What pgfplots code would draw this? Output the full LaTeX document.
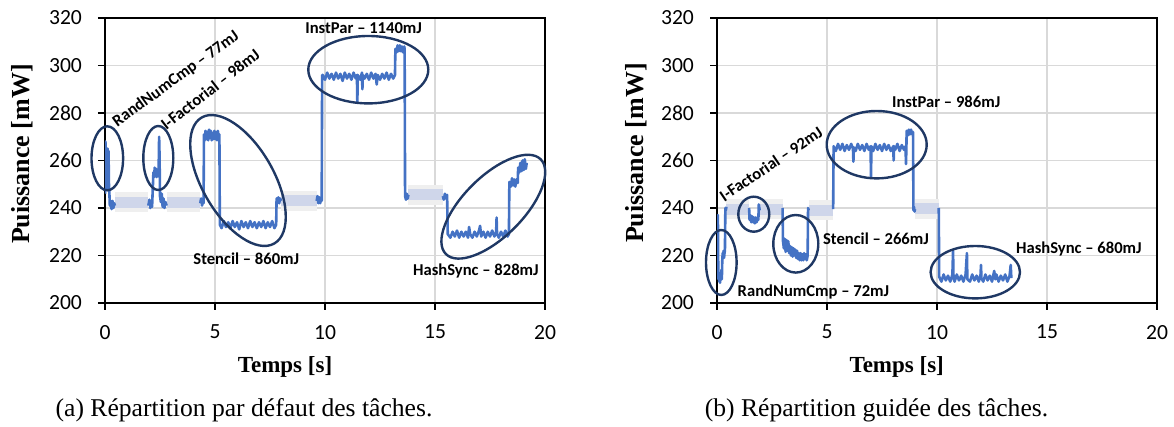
\documentclass[border=0pt]{standalone}
\usepackage{fontspec}
\setmainfont{Liberation Serif}
\newfontfamily\calibri{Carlito}
\usepackage{pgfplots}
\pgfplotsset{compat=1.18}
\usetikzlibrary{shapes.geometric}
\definecolor{bl}{HTML}{4472C4}
\definecolor{lav}{HTML}{CFD6EA}
\definecolor{lgray}{HTML}{EFEFEF}
\definecolor{navy}{HTML}{1F3864}
\definecolor{gridc}{HTML}{D9D9D9}
\pgfplotsset{
 myax/.style={scale only axis, width=220pt, height=142.5pt, anchor=south west,
  xmin=0, xmax=20, ymin=200, ymax=320,
  xtick={0,5,10,15,20}, ytick={200,220,240,260,280,300,320},
  grid=major, major grid style={gridc, line width=0.6pt},
  axis line style={line width=1pt}, tick style={black, line width=0.8pt},
  tick align=outside, major tick length=3.5pt,
  xtick pos=bottom, ytick pos=left,
  ticklabel style={font=\calibri\fontsize{10.8}{12}\selectfont},
  xticklabel style={yshift=-4pt},
  yticklabel style={xshift=-4.5pt},
  /pgf/number format/assume math mode=true},
 band1/.style={lgray, line width=10pt},
 band2/.style={lav, line width=5.5pt},
 sig/.style={bl, line width=1.3pt, line join=round}}
\tikzset{
 ann/.style={font=\calibri\bfseries\fontsize{8.3}{10}\selectfont, inner sep=0pt},
 ell/.style={draw=navy, line width=1.2pt, ellipse, inner sep=0pt},
 lab/.style={font=\bfseries\fontsize{11.5}{13}\selectfont, inner sep=0pt},
 vlab/.style={font=\bfseries\fontsize{13}{15}\selectfont, inner sep=0pt},
 capt/.style={font=\fontsize{12.8}{14}\selectfont, inner sep=0pt}}
\begin{document}
\begin{tikzpicture}
\useasboundingbox (0,0) rectangle (587pt,213.5pt);
% ---------------- (a) ----------------
\begin{axis}[myax, at={(52.5pt,62pt)}]
\addplot[band1] coordinates {(0.45,242.5)(1.97,242.5)};
\addplot[band1] coordinates {(2.8,242.5)(4.33,242.5)};
\addplot[band1] coordinates {(8.0,243)(9.62,243)};
\addplot[band1] coordinates {(13.79,245.5)(15.36,245.5)};
\addplot[band2] coordinates {(0.45,242.5)(1.97,242.5)};
\addplot[band2] coordinates {(2.8,242.5)(4.33,242.5)};
\addplot[band2] coordinates {(8.0,243)(9.62,243)};
\addplot[band2] coordinates {(13.79,245.5)(15.36,245.5)};
\addplot[sig] coordinates {(0,246)(0.02,268)(0.04,250)(0.06,258)(0.08,248)(0.1,256)(0.12,265)(0.14,258)(0.16,264)(0.18,250)(0.2,246)(0.22,241)(0.26,243)(0.3,239.5)(0.34,243)(0.38,240)(0.42,242)(0.45,241)};
\addplot[sig] coordinates {(1.97,241)(2.02,243.5)(2.06,240)(2.1,242.5)(2.14,240.5)(2.18,250)(2.2,255)(2.23,253)(2.26,257)(2.29,254)(2.32,256.5)(2.35,253)(2.38,256)(2.41,254)(2.44,257)(2.46,270)(2.48,262)(2.5,245)(2.54,242.5)(2.58,246)(2.62,240.5)(2.66,244)(2.7,240)(2.75,242.5)(2.8,241)};
\addplot[sig] coordinates {(4.33,242)(4.37,244)(4.41,241)(4.45,243.5)(4.48,242)(4.5,271)(4.53,268.5)(4.57,272.5)(4.61,269)(4.65,272)(4.69,268.5)(4.73,273)(4.77,269.5)(4.81,272.5)(4.85,268.5)(4.89,271.5)(4.93,269)(4.97,272.5)(5.01,269)(5.05,272)(5.09,268.5)(5.13,272.5)(5.17,269.5)(5.2,271)(5.22,233)(5.3,231.5)(5.4,234.5)(5.5,232)(5.6,234)(5.7,231.5)(5.8,234.5)(5.9,232)(6.0,234)(6.1,231)(6.2,234.5)(6.3,232)(6.4,234)(6.5,231.5)(6.6,234.5)(6.7,232)(6.8,234)(6.9,231.5)(7.0,234)(7.1,232)(7.2,234.5)(7.3,231.5)(7.4,234)(7.5,232)(7.6,234.5)(7.7,231.5)(7.78,233)(7.8,244)(7.84,242)(7.88,244.5)(7.92,242)(7.96,244)(8.0,243)};
\addplot[sig] coordinates {(9.62,243)(9.66,245)(9.7,242)(9.74,244.5)(9.78,242)(9.82,244)(9.85,243)(9.87,296)(9.9,296)(10.0,294)(10.1,297)(10.2,294.5)(10.3,296.5)(10.4,294)(10.5,297)(10.6,294.5)(10.7,296.5)(10.8,293.5)(10.9,297)(11.0,294.5)(11.1,296.5)(11.2,294)(11.3,297)(11.4,294.5)(11.45,296)(11.47,284.5)(11.49,296)(11.6,294)(11.68,297)(11.7,290)(11.72,296)(11.8,294.5)(11.9,296.5)(12.0,294)(12.1,297)(12.2,294.5)(12.3,296.5)(12.35,292)(12.4,296)(12.5,294)(12.6,296.5)(12.7,294.5)(12.8,297)(12.9,294)(13.0,296.5)(13.1,294.5)(13.18,296)(13.2,307)(13.25,305.5)(13.3,308.5)(13.35,306)(13.4,308.5)(13.45,306)(13.5,308)(13.55,305.5)(13.6,308)(13.62,307)(13.64,245)(13.68,243.5)(13.72,246)(13.76,244)(13.79,245.5)};
\addplot[sig] coordinates {(15.36,245)(15.4,243.5)(15.45,246)(15.5,244)(15.55,245.5)(15.58,229)(15.7,227.5)(15.8,230)(15.9,228)(16.0,230.5)(16.1,227.5)(16.2,230)(16.3,228)(16.4,230)(16.5,227.5)(16.55,232)(16.6,229)(16.7,227.5)(16.8,230)(16.9,228)(17.0,230.5)(17.05,232.5)(17.1,228)(17.2,230)(17.3,227.5)(17.4,230)(17.5,228)(17.6,230.5)(17.7,228)(17.78,230)(17.8,236)(17.82,229)(17.9,227.5)(18.0,230)(18.1,228)(18.2,230.5)(18.3,228)(18.36,229)(18.38,251)(18.45,249)(18.5,252.5)(18.55,249.5)(18.6,252)(18.65,249)(18.7,252)(18.76,250.5)(18.78,257)(18.83,255)(18.88,259)(18.93,255.5)(18.98,260)(19.03,256)(19.08,260.5)(19.13,256.5)(19.17,259)};
\end{axis}
% ---------------- (b) ----------------
\begin{axis}[myax, at={(358.5pt,62pt)}]
\addplot[band1] coordinates {(0.43,239.5)(1.46,239.5)};
\addplot[band1] coordinates {(1.94,239.5)(2.98,239.5)};
\addplot[band1] coordinates {(4.17,239)(5.28,239)};
\addplot[band1] coordinates {(9.0,239.7)(10.08,239.7)};
\addplot[band2] coordinates {(0.43,239.5)(1.46,239.5)};
\addplot[band2] coordinates {(1.94,239.5)(2.98,239.5)};
\addplot[band2] coordinates {(4.17,239)(5.28,239)};
\addplot[band2] coordinates {(9.0,239.7)(10.08,239.7)};
\addplot[sig] coordinates {(0,236)(0.02,215)(0.04,237)(0.06,210)(0.08,213)(0.1,209)(0.12,212)(0.14,208.5)(0.16,212)(0.18,210)(0.2,214)(0.22,210)(0.24,218)(0.26,221)(0.28,219)(0.3,222)(0.32,219)(0.34,221)(0.36,222)(0.38,240)(0.4,239)(0.43,240.5)};
\addplot[sig] coordinates {(1.46,240)(1.48,235)(1.52,237)(1.56,234)(1.6,236.5)(1.64,234)(1.68,236)(1.72,233.5)(1.76,236)(1.8,234)(1.84,236)(1.88,235)(1.9,241.5)(1.94,239)};
\addplot[sig] coordinates {(2.98,240)(3.0,226)(3.04,223)(3.08,227)(3.12,221.5)(3.16,226.5)(3.2,222)(3.24,226)(3.28,221)(3.32,224)(3.36,220)(3.4,223.5)(3.44,219.5)(3.48,223)(3.52,220)(3.56,222.5)(3.6,219)(3.64,222)(3.68,218.5)(3.72,221)(3.76,218)(3.8,221)(3.84,218)(3.88,220.5)(3.92,218)(3.96,221)(4.0,218.5)(4.04,220.5)(4.08,218)(4.12,220)(4.14,240)(4.17,239)};
\addplot[sig] coordinates {(5.28,239.5)(5.3,266)(5.4,264)(5.5,267)(5.6,264.5)(5.7,267)(5.8,264)(5.9,266.5)(6.0,264.5)(6.1,267)(6.18,265)(6.2,259.5)(6.22,265.5)(6.3,264)(6.4,267)(6.5,264.5)(6.6,266.5)(6.7,264)(6.8,267)(6.9,264.5)(6.98,266)(7.0,253)(7.02,266)(7.1,264)(7.2,267)(7.3,264.5)(7.4,266.5)(7.5,264)(7.6,267)(7.7,264.5)(7.8,266.5)(7.9,264)(8.01,266)(8.03,260)(8.05,266)(8.1,264.5)(8.2,267)(8.3,264)(8.4,266.5)(8.5,264.5)(8.57,266)(8.59,258.5)(8.61,266)(8.62,272.5)(8.67,270.5)(8.72,273)(8.77,271)(8.82,273)(8.87,271)(8.91,272)(8.93,239)(8.95,240.5)(8.98,238.5)(9.0,239.5)};
\addplot[sig] coordinates {(10.08,240)(10.1,211)(10.2,209)(10.3,212)(10.4,209.5)(10.5,211.5)(10.6,209)(10.7,212)(10.73,222)(10.75,210.5)(10.8,209)(10.9,212)(11.0,209.5)(11.1,211.5)(11.2,209)(11.3,212)(11.36,221)(11.38,210)(11.5,209)(11.6,212)(11.7,209.5)(11.8,211.5)(11.9,209)(11.98,212)(12.0,216)(12.02,210.5)(12.1,209)(12.2,212)(12.3,209.5)(12.4,211.5)(12.5,209)(12.6,213.5)(12.65,210)(12.7,212)(12.8,209)(12.9,211.5)(13.0,209.5)(13.1,212)(13.2,209)(13.3,211.5)(13.35,216)(13.38,210.5)};
\end{axis}
% ---------------- overlay (pixel frame) ----------------
\begin{scope}[x=0.5pt, y=-0.5pt, yshift=213.5pt]
% ellipses (a)
\node[ell, minimum width=15.8pt, minimum height=32pt] at (107.3,158.3) {};
\node[ell, minimum width=15pt, minimum height=32pt] at (158.3,158) {};
\node[ell, minimum width=72.7pt, minimum height=35.8pt, rotate=-60] at (238,180.5) {};
\node[ell, minimum width=60pt, minimum height=33.7pt] at (368.3,69.7) {};
\node[ell, minimum width=67pt, minimum height=30pt, rotate=45] at (493.3,206.7) {};
% ellipses (b)
\node[ell, minimum width=15.3pt, minimum height=32.5pt] at (721.3,262.5) {};
\node[ell, minimum width=15.5pt, minimum height=17.5pt] at (753.8,214.2) {};
\node[ell, minimum width=22.5pt, minimum height=28.8pt] at (795.8,243.8) {};
\node[ell, minimum width=50pt, minimum height=33.7pt] at (876.7,144.7) {};
\node[ell, minimum width=44.7pt, minimum height=26.2pt] at (975.3,272.2) {};
% annotations (a)
\node[ann, anchor=base west, rotate=36] at (117,127.5) {RandNumCmp – 77mJ};
\node[ann, anchor=base west, rotate=38] at (166,131) {I-Factorial – 98mJ};
\node[ann, anchor=base west] at (193,265) {Stencil – 860mJ};
\node[ann, anchor=base west] at (305,33.3) {InstPar – 1140mJ};
\node[ann, anchor=base west] at (412.7,275.5) {HashSync – 828mJ};
% annotations (b)
\node[ann, anchor=base west, rotate=34] at (724,202.5) {I-Factorial – 92mJ};
\node[ann, anchor=base west] at (737.3,296.5) {RandNumCmp – 72mJ};
\node[ann, anchor=base west] at (822.7,244.5) {Stencil – 266mJ};
\node[ann, anchor=base west] at (891.7,107.3) {InstPar – 986mJ};
\node[ann, anchor=base west] at (1015.7,253.8) {HashSync – 680mJ};
% axis labels
\node[vlab, rotate=90] at (22.5,154) {Puissance [mW]};
\node[vlab, rotate=90] at (636,153) {Puissance [mW]};
\node[lab, anchor=base] at (285,373) {Temps [s]};
\node[lab, anchor=base] at (896.7,373) {Temps [s]};
% captions
\node[capt, anchor=base] at (244,417) {(a) Répartition par défaut des tâches.};
\node[capt, anchor=base] at (876.5,417) {(b) Répartition guidée des tâches.};
\end{scope}
\end{tikzpicture}
\end{document}
